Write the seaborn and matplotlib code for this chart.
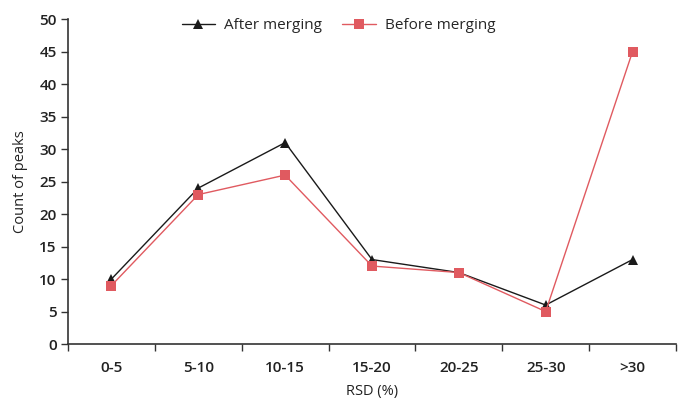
import matplotlib
matplotlib.use("Agg")
import matplotlib.pyplot as plt
import seaborn as sns
import pandas as pd
from matplotlib.ticker import FixedLocator, NullFormatter

categories = ["0-5", "5-10", "10-15", "15-20", "20-25", "25-30", ">30"]
after_merging = [10, 24, 31, 13, 11, 6, 13]
before_merging = [9, 23, 26, 12, 11, 5, 45]

sns.set_theme(style="white")
plt.rcParams["font.family"] = ["Open Sans", "DejaVu Sans"]

df = pd.DataFrame({
    "pos": list(range(len(categories))) * 2,
    "count": after_merging + before_merging,
    "series": ["After merging"] * len(categories) + ["Before merging"] * len(categories),
})

fig = plt.figure(figsize=(6.78, 3.99), dpi=100)
ax = fig.add_axes([0.1003, 0.1378, 0.8967, 0.8142])

sns.lineplot(
    data=df, x="pos", y="count", hue="series", style="series",
    palette={"After merging": "#1a1a1a", "Before merging": "#e05a60"},
    markers={"After merging": "^", "Before merging": "s"},
    dashes=False, markersize=7.5, markeredgewidth=0, linewidth=1.0, ax=ax,
)
# slightly smaller triangles than squares
for line in ax.lines:
    if line.get_marker() == "^":
        line.set_markersize(7)

ax.set_xlim(-0.5, len(categories) - 0.5)
ax.set_ylim(0, 50)
ax.set_yticks(range(0, 51, 5))

# category boundaries as tick marks, labels centred between them
ax.xaxis.set_major_locator(FixedLocator([i - 0.5 for i in range(len(categories) + 1)]))
ax.xaxis.set_major_formatter(NullFormatter())
ax.xaxis.set_minor_locator(FixedLocator(list(range(len(categories)))))
ax.set_xticklabels(categories, minor=True)
ax.tick_params(axis="x", which="major", direction="out", length=5, width=1, color="#333333", bottom=True)
ax.tick_params(axis="x", which="minor", length=0, labelsize=11, labelcolor="#222222", pad=12)
ax.tick_params(axis="y", direction="out", length=5, width=1, color="#333333", left=True,
               labelsize=11, labelcolor="#222222", pad=3)
for lbl in ax.get_xticklabels(minor=True) + ax.get_yticklabels():
    lbl.set_fontweight("semibold")

for side in ["top", "right"]:
    ax.spines[side].set_visible(False)
for side in ["left", "bottom"]:
    ax.spines[side].set_color("#333333")
    ax.spines[side].set_linewidth(1.2)

ax.set_xlabel("RSD (%)", fontsize=10.5, color="#222222", labelpad=7)
ax.set_ylabel("Count of peaks", fontsize=10.5, color="#222222", labelpad=8)

handles, labels = ax.get_legend_handles_labels()
ax.legend(handles, labels, ncol=2, frameon=False, loc="upper center",
          bbox_to_anchor=(0.445, 1.045), fontsize=11, handlelength=2.2,
          columnspacing=1.3, handletextpad=0.6)

fig.savefig("out.png", dpi=100)
